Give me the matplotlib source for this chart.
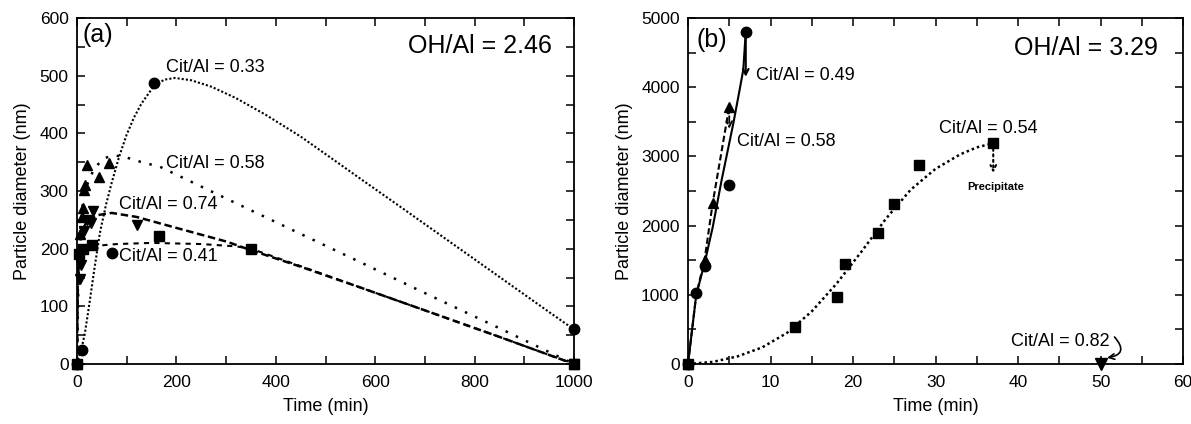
import matplotlib
matplotlib.use("Agg")
import matplotlib.pyplot as plt
from matplotlib.ticker import MultipleLocator

plt.rcParams['font.family'] = ['Liberation Sans', 'DejaVu Sans']

# ---------------- Panel (a): OH/Al = 2.46 ----------------
# measured points
a_t_033 = [0, 10, 155, 1000]
a_y_033 = [0, 25, 487, 60]
a_t_041_sq = [0, 5, 12, 30, 165, 350, 1000]
a_y_041_sq = [0, 190, 200, 206, 222, 200, 0]
a_t_041_circ = [70]
a_y_041_circ = [193]
a_t_058 = [0, 6, 10, 13, 14, 16, 20, 45, 65, 1000]
a_y_058 = [0, 225, 255, 270, 302, 310, 345, 325, 348, 0]
a_t_074 = [6, 9, 14, 20, 28, 32, 120, 1000]
a_y_074 = [147, 172, 230, 250, 245, 265, 241, 0]

# fitted curves
a_fit_t_033 = [0, 10, 16, 25, 35, 46, 58, 70, 85, 100, 115, 130, 153, 175, 197, 230, 270, 320, 380, 449, 510, 569, 650, 750, 850, 950, 1000]
a_fit_y_033 = [0, 30, 54, 105, 165, 227, 275, 315, 360, 398, 428, 452, 480, 493, 496, 492, 481, 461, 432, 395, 358, 322, 273, 212, 151, 90, 60]
a_fit_t_058 = [0, 3, 6, 10, 20, 35, 55, 75, 100, 130, 167, 300, 449, 569, 700, 850, 1000]
a_fit_y_058 = [0, 150, 220, 270, 310, 340, 357, 362, 358, 350, 342, 287, 226, 177, 123, 62, 0]
a_fit_t_074 = [0, 2, 5, 10, 20, 40, 70, 120, 200, 302, 348, 449, 569, 700, 850, 1000]
a_fit_y_074 = [0, 150, 200, 230, 248, 258, 262, 255, 236, 212, 198, 169, 133, 93, 47, 0]
a_fit_t_041 = [0, 2, 5, 15, 40, 80, 150, 250, 320, 350, 449, 569, 700, 850, 1000]
a_fit_y_041 = [0, 150, 190, 200, 205, 208, 210, 208, 204, 200, 170, 133, 93, 47, 0]

# ---------------- Panel (b): OH/Al = 3.29 ----------------
b_t_049 = [0, 1, 2, 5, 7]
b_y_049 = [0, 1020, 1420, 2590, 4800]
b_t_058 = [0, 2, 3, 5]
b_y_058 = [0, 1500, 2330, 3720]
b_t_054 = [0, 13, 18, 19, 23, 25, 28, 37]
b_y_054 = [0, 540, 970, 1440, 1900, 2310, 2880, 3190]
b_t_082 = [50]
b_y_082 = [0]

b_fit_t_049 = [0, 1, 2, 3, 4.08, 5.5, 6.3, 6.7, 7]
b_fit_y_049 = [0, 1000, 1450, 1980, 2660, 3480, 3990, 4250, 4800]
b_fit_t_058 = [0, 1, 2, 3, 5]
b_fit_y_058 = [0, 1000, 1500, 2330, 3720]
b_fit_t_054 = [0, 3, 6, 9, 12, 15, 18, 21, 24, 27, 30, 33, 35, 37]
b_fit_y_054 = [0, 30, 110, 240, 450, 760, 1160, 1620, 2100, 2520, 2820, 3030, 3130, 3190]

fig = plt.figure(figsize=(11.91, 4.24), dpi=100)
axa = fig.add_axes([77/1191, 1-364/424, 497/1191, 346/424])
axb = fig.add_axes([688/1191, 1-364/424, 495/1191, 346/424])

TICK_FS = 12.5
LAB_FS = 13
CIT_FS = 13
BIG_FS = 18
ms = 7.5

def style(ax):
    for s in ax.spines.values():
        s.set_linewidth(1.3)
    ax.tick_params(axis='both', which='both', direction='in', top=True, right=True,
                   length=6, width=1.1, labelsize=TICK_FS)
    ax.tick_params(axis='x', which='both', pad=8)
    ax.tick_params(axis='y', which='both', pad=6)
    ax.tick_params(which='minor', labelbottom=False, labelleft=False)

# ---- panel a
axa.plot(a_fit_t_033, a_fit_y_033, color='k', lw=1.5, ls=(0, (1, 1)))
axa.plot(a_fit_t_058, a_fit_y_058, color='k', lw=1.8, ls=(0, (1, 3.5)))
axa.plot(a_fit_t_074, a_fit_y_074, color='k', lw=1.8, ls=(0, (3, 1.5)))
axa.plot(a_fit_t_041, a_fit_y_041, color='k', lw=1.5, ls=(0, (2.5, 2.5)))

kw = dict(color='k', ls='none', clip_on=False, zorder=5)
axa.plot(a_t_033, a_y_033, marker='o', ms=ms, **kw)
axa.plot(a_t_041_sq, a_y_041_sq, marker='s', ms=ms-0.5, **kw)
axa.plot(a_t_041_circ, a_y_041_circ, marker='o', ms=ms, **kw)
axa.plot(a_t_058, a_y_058, marker='^', ms=ms, **kw)
axa.plot(a_t_074, a_y_074, marker='v', ms=ms, **kw)

axa.set_xlim(0, 1000)
axa.set_ylim(0, 600)
axa.xaxis.set_major_locator(MultipleLocator(200))
axa.xaxis.set_minor_locator(MultipleLocator(100))
axa.yaxis.set_major_locator(MultipleLocator(100))
axa.yaxis.set_minor_locator(MultipleLocator(50))
style(axa)
axa.set_xlabel('Time (min)', fontsize=LAB_FS, labelpad=6)
axa.set_ylabel('Particle diameter (nm)', fontsize=LAB_FS, labelpad=6)

axa.text(0.012, 0.951, '(a)', transform=axa.transAxes, fontsize=BIG_FS, va='center', ha='left')
axa.text(0.956, 0.919, 'OH/Al = 2.46', transform=axa.transAxes, fontsize=BIG_FS, va='center', ha='right')
axa.text(179, 515, 'Cit/Al = 0.33', fontsize=CIT_FS, va='center')
axa.text(179, 348, 'Cit/Al = 0.58', fontsize=CIT_FS, va='center')
axa.text(85, 276, 'Cit/Al = 0.74', fontsize=CIT_FS, va='center')
axa.text(85, 186, 'Cit/Al = 0.41', fontsize=CIT_FS, va='center')

# ---- panel b
axb.plot(b_fit_t_049, b_fit_y_049, color='k', lw=1.5, ls='-')
axb.plot(b_fit_t_058, b_fit_y_058, color='k', lw=1.5, ls=(0, (3, 1.5)))
axb.plot(b_fit_t_054, b_fit_y_054, color='k', lw=1.8, ls=(0, (1, 1.2)))

axb.plot(b_t_049, b_y_049, marker='o', ms=ms, **kw)
axb.plot(b_t_058, b_y_058, marker='^', ms=ms, **kw)
axb.plot(b_t_054, b_y_054, marker='s', ms=ms-0.5, **kw)
axb.plot(b_t_082, b_y_082, marker='v', ms=ms+1, **kw)

axb.annotate('', xy=(7, 4150), xytext=(7, 4800),
             arrowprops=dict(arrowstyle='->', lw=1.5, color='k', shrinkA=0, shrinkB=0))
axb.annotate('', xy=(5, 3400), xytext=(5, 3720),
             arrowprops=dict(arrowstyle='->', lw=1.3, ls='--', color='k', shrinkA=0, shrinkB=0))
axb.annotate('', xy=(37, 2760), xytext=(37, 3190),
             arrowprops=dict(arrowstyle='->', lw=1.5, ls=':', color='k', shrinkA=0, shrinkB=0))
axb.annotate('', xy=(50.8, 90), xytext=(51.7, 390),
             arrowprops=dict(arrowstyle='->', lw=1.2, color='k', shrinkA=0, shrinkB=0,
                             connectionstyle='arc3,rad=-0.9'))

axb.set_xlim(0, 60)
axb.set_ylim(0, 5000)
axb.xaxis.set_major_locator(MultipleLocator(10))
axb.xaxis.set_minor_locator(MultipleLocator(5))
axb.yaxis.set_major_locator(MultipleLocator(1000))
axb.yaxis.set_minor_locator(MultipleLocator(500))
style(axb)
axb.set_xlabel('Time (min)', fontsize=LAB_FS, labelpad=6)
axb.set_ylabel('Particle diameter (nm)', fontsize=LAB_FS, labelpad=6)

axb.text(0.018, 0.936, '(b)', transform=axb.transAxes, fontsize=BIG_FS, va='center', ha='left')
axb.text(0.949, 0.913, 'OH/Al = 3.29', transform=axb.transAxes, fontsize=BIG_FS, va='center', ha='right')
axb.text(8.2, 4176, 'Cit/Al = 0.49', fontsize=CIT_FS, va='center')
axb.text(5.9, 3222, 'Cit/Al = 0.58', fontsize=CIT_FS, va='center')
axb.text(30.4, 3410, 'Cit/Al = 0.54', fontsize=CIT_FS, va='center')
axb.text(37.3, 2558, 'Precipitate', fontsize=8, fontweight='bold', va='center', ha='center')
axb.text(39.2, 318, 'Cit/Al = 0.82', fontsize=CIT_FS, va='center')

fig.savefig('out.png', dpi=100)
